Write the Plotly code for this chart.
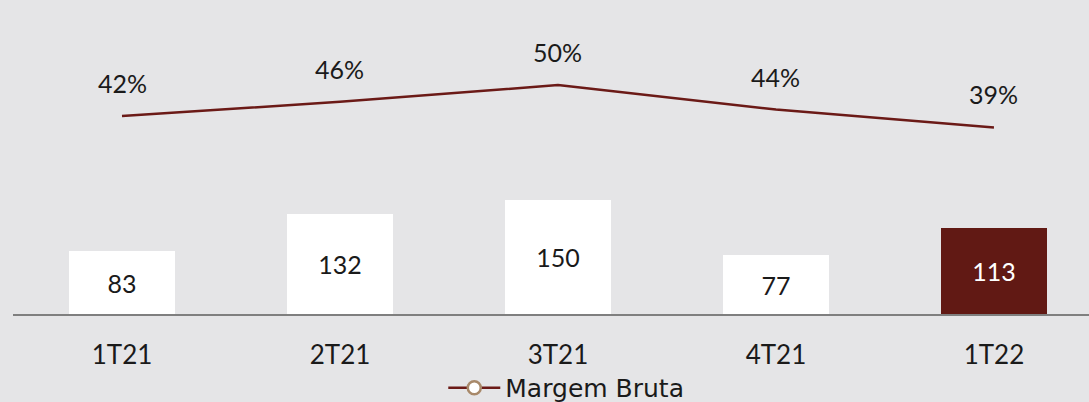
import plotly.graph_objects as go

categories = ["1T21", "2T21", "3T21", "4T21", "1T22"]
receita = [83, 132, 150, 77, 113]
margem = [41.9, 45.6, 50.0, 43.6, 38.9]
bar_colors = ["#ffffff", "#ffffff", "#ffffff", "#ffffff", "#611914"]
bar_text_colors = ["#1a1a1a", "#1a1a1a", "#1a1a1a", "#1a1a1a", "#ffffff"]

NUMFONT = "Lato, 'Noto Sans', sans-serif"
LEGFONT = "'DejaVu Sans', sans-serif"
FS = 25
BG = "#e5e5e7"
LINE = "#6b1a17"

fig = go.Figure()
fig.add_trace(go.Bar(
    x=categories, y=receita, width=0.49,
    marker=dict(color=bar_colors, line=dict(width=0)),
    text=[str(v) for v in receita], textposition="inside",
    insidetextanchor="middle",
    textfont=dict(family=NUMFONT, size=FS, color=bar_text_colors),
    showlegend=False, hoverinfo="skip",
))
fig.add_trace(go.Scatter(
    x=categories, y=margem, yaxis="y2", mode="lines",
    line=dict(color=LINE, width=2.5), showlegend=False, hoverinfo="skip",
))
fig.add_trace(go.Scatter(
    x=[None], y=[None], yaxis="y2", mode="lines+markers", name="Margem Bruta",
    line=dict(color=LINE, width=2.5),
    marker=dict(symbol="circle", size=13, color="#ffffff", line=dict(color="#a8896a", width=2.5)),
))
for c, m in zip(categories, margem):
    fig.add_annotation(x=c, y=m, yref="y2", text=f"{m:.0f}%", showarrow=False,
                       yshift=33, font=dict(family=NUMFONT, size=FS, color="#1a1a1a"))

fig.update_layout(
    width=1089, height=402,
    paper_bgcolor=BG, plot_bgcolor=BG,
    margin=dict(l=13, r=0, t=0, b=88, autoexpand=False),
    font=dict(family=NUMFONT, size=FS, color="#1a1a1a"),
    xaxis=dict(range=[-0.5, 4.436], showline=True, linecolor="#7f7f7f", linewidth=2,
               ticks="", showgrid=False, ticklabelstandoff=17, automargin=False,
               tickfont=dict(family=NUMFONT, size=26, color="#1a1a1a")),
    yaxis=dict(range=[0, 413], visible=False, showgrid=False),
    yaxis2=dict(range=[-10, 72.3], overlaying="y", visible=False, showgrid=False),
    legend=dict(orientation="h", xref="container", x=0.52, xanchor="center",
                yref="container", y=0.035, yanchor="middle",
                itemwidth=52, font=dict(family=LEGFONT, size=25, color="#1a1a1a"),
                bgcolor="rgba(0,0,0,0)"),
    bargap=0,
)
fig.write_html("out.html", config={"displayModeBar": False},
               post_script="document.body.style.margin='0';document.body.style.background='#e5e5e7';")
